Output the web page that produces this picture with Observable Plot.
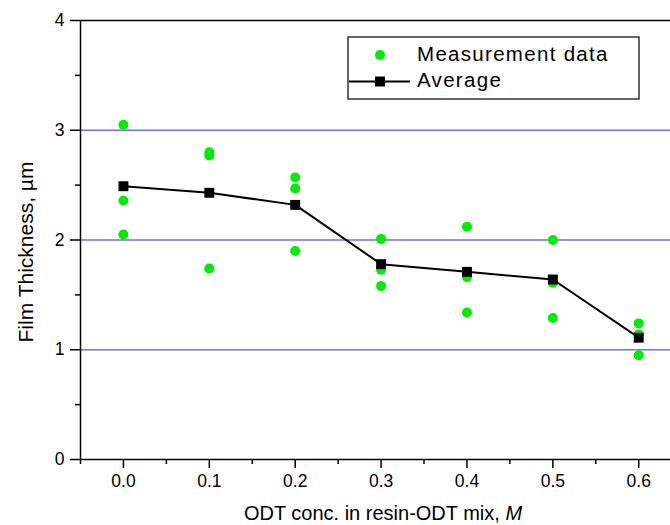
<!DOCTYPE html>
<html><head><meta charset="utf-8">
<script src="https://cdn.jsdelivr.net/npm/d3@7"></script>
<script src="https://cdn.jsdelivr.net/npm/@observablehq/plot@0.6"></script>
<style>
body{margin:0;background:#fff;}
#chart svg{display:block;}
</style>
</head><body><div id="chart"></div>
<script>
const conc = [0.0, 0.1, 0.2, 0.3, 0.4, 0.5, 0.6];
const measA = [3.05, 2.80, 2.57, 2.01, 2.12, 2.00, 1.24];
const measB = [2.36, 2.77, 2.47, 1.73, 1.66, 1.61, 1.14];
const measC = [2.05, 1.74, 1.90, 1.58, 1.34, 1.29, 0.95];
const average = [2.49, 2.43, 2.32, 1.78, 1.71, 1.64, 1.11];
const yTicks = [0, 1, 2, 3, 4];
const yMinor = [0.5, 1.5, 2.5, 3.5];
const xTicks = [0.0, 0.1, 0.2, 0.3, 0.4, 0.5, 0.6];
const xMinor = [-0.05, 0.05, 0.15, 0.25, 0.35, 0.45, 0.55];
const gridLines = [1, 2, 3];
const legendLabels = ["Measurement data", "Average"];
const xTitle = "ODT conc. in resin-ODT mix, ";
const xTitleUnit = "M";
const yTitle = "Film Thickness, \u00b5m";

const font = '"Liberation Sans", Arial, sans-serif';
const green = "#00ec00";
const meas = conc.flatMap((c, i) => [
  {x: c, y: measA[i]}, {x: c, y: measB[i]}, {x: c, y: measC[i]}
]);
const avgData = conc.map((c, i) => ({x: c, y: average[i]}));

const chart = Plot.plot({
  width: 670, height: 525,
  marginLeft: 80, marginRight: 0, marginTop: 20, marginBottom: 66,
  x: {domain: [-0.05, 0.637]},
  y: {domain: [0, 4]},
  style: {fontFamily: font, fontSize: "17.5px", color: "#000", background: "#fff"},
  marks: [
    Plot.ruleY(gridLines, {stroke: "#7070f2", strokeWidth: 1.5}),
    Plot.ruleY([4], {stroke: "#000", strokeWidth: 1.5}),
    Plot.axisY(yTicks, {tickSize: 10, tickPadding: 6, tickFormat: d => String(d), label: null, strokeWidth: 1.5, fontSize: 17.5}),
    Plot.axisY(yMinor, {tickSize: 5, tickFormat: () => "", label: null, strokeWidth: 1.5}),
    Plot.axisX(xTicks, {tickSize: 9, tickPadding: 6, tickFormat: d3.format(".1f"), label: null, strokeWidth: 1.5, fontSize: 17.5}),
    Plot.axisX(xMinor, {tickSize: 5, tickFormat: () => "", label: null, strokeWidth: 1.5}),
    Plot.ruleX([-0.05], {stroke: "#000", strokeWidth: 1.5}),
    Plot.ruleY([0], {stroke: "#000", strokeWidth: 1.5}),
    Plot.dot(meas, {x: "x", y: "y", r: 5, fill: green, stroke: "none"}),
    Plot.line(avgData, {x: "x", y: "y", stroke: "#000", strokeWidth: 2}),
    Plot.dot(avgData, {x: "x", y: "y", symbol: "square", r: 5.6, fill: "#000", stroke: "none"})
  ]
});
document.getElementById("chart").appendChild(chart);

const svg = d3.select(chart);
// legend
const lg = svg.append("g").attr("font-family", font).attr("font-size", 20.5).attr("text-anchor", "start");
lg.append("rect").attr("x", 348).attr("y", 37).attr("width", 291).attr("height", 62)
  .attr("fill", "#fff").attr("stroke", "#333").attr("stroke-width", 1.5);
lg.append("circle").attr("cx", 380).attr("cy", 55).attr("r", 5).attr("fill", green);
lg.append("line").attr("x1", 349).attr("x2", 410).attr("y1", 81.5).attr("y2", 81.5)
  .attr("stroke", "#000").attr("stroke-width", 2);
lg.append("rect").attr("x", 375).attr("y", 76.5).attr("width", 10).attr("height", 10).attr("fill", "#000");
lg.append("text").attr("x", 417).attr("y", 61).attr("text-anchor", "start").attr("letter-spacing", 1.3).text(legendLabels[0]);
lg.append("text").attr("x", 417).attr("y", 87).attr("text-anchor", "start").attr("letter-spacing", 1.3).text(legendLabels[1]);

// axis titles
const xt = svg.append("text").attr("x", 383).attr("y", 520).attr("text-anchor", "middle")
  .attr("font-family", font).attr("font-size", 20).attr("fill", "#000");
xt.append("tspan").text(xTitle);
xt.append("tspan").attr("font-style", "italic").text(xTitleUnit);
svg.append("text").attr("transform", "translate(33,252) rotate(-90)").attr("text-anchor", "middle")
  .attr("font-family", font).attr("font-size", 21).attr("fill", "#000").text(yTitle);
</script>
</body></html>
